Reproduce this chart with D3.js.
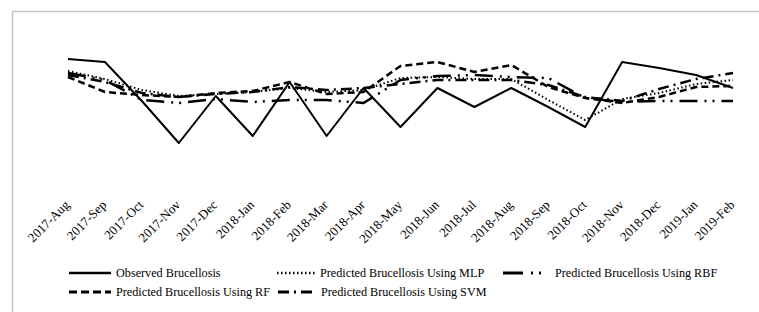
<!DOCTYPE html>
<html>
<head>
<meta charset="utf-8">
<script src="https://cdn.jsdelivr.net/npm/d3@7"></script>
<style>
  body { margin: 0; background: #fff; }
  svg { display: block; }
  svg text { font-family: "Liberation Serif", "Times New Roman", Times, serif; }
</style>
</head>
<body>
<div id="chart"></div>
<script>
var months = ['2017-Aug', '2017-Sep', '2017-Oct', '2017-Nov', '2017-Dec', '2018-Jan', '2018-Feb',
  '2018-Mar', '2018-Apr', '2018-May', '2018-Jun', '2018-Jul', '2018-Aug', '2018-Sep', '2018-Oct',
  '2018-Nov', '2018-Dec', '2019-Jan', '2019-Feb'];

var observed = [121, 118, 79, 37, 84, 44, 98, 44, 92, 53, 92, 73, 92, 73, 53, 118, 112, 105, 92];
var mlp      = [109, 101, 90, 84, 86, 88, 92, 88, 90, 102, 103, 101, 101, 80, 60, 81, 87, 96, 100];
var rbf      = [107, 100, 80, 77, 81, 78, 80, 80, 77, 100, 104, 105, 103, 102, 82, 78, 79, 79, 79];
var rf       = [103, 88, 85, 83, 87, 89, 98, 86, 88, 114, 118, 108, 115, 93, 82, 77, 83, 93, 94];
var svm      = [105, 98, 87, 83, 86, 88, 93, 90, 92, 96, 100, 100, 100, 95, 83, 79, 91, 101, 107];

var seriesNames = ['Observed Brucellosis', 'Predicted Brucellosis Using MLP', 'Predicted Brucellosis Using RBF',
  'Predicted Brucellosis Using RF', 'Predicted Brucellosis Using SVM'];

var width = 759,
    height = 312;

var series = [
  { name: seriesNames[0], values: observed, dash: null, w: 2 },
  { name: seriesNames[1], values: mlp, dash: '1.5,2.5', w: 2 },
  { name: seriesNames[2], values: rbf, dash: '18,7,2,6,2,7', w: 2.5 },
  { name: seriesNames[3], values: rf, dash: '7,4', w: 2.5 },
  { name: seriesNames[4], values: svm, dash: '11,5,2,5', w: 2.5 }
];

var svg = d3.select('#chart')
  .append('svg')
  .attr('width', width)
  .attr('height', height);

// frame
svg.append('path')
  .attr('d', 'M12.5,' + height + 'V11.5H' + width)
  .attr('fill', 'none')
  .attr('stroke', '#c3c3c3')
  .attr('stroke-width', 1.5);

var xScale = d3.scalePoint()
  .domain(months)
  .range([68, 733]);

var yScale = d3.scaleLinear()
  .domain([0, 150])
  .range([180, 30]);

var line = d3.line()
  .x(function(d, i) { return xScale(months[i]); })
  .y(function(d) { return yScale(d); });

// draw observed last so it sits on top
[1, 2, 3, 4, 0].forEach(function(k) {
  var s = series[k];
  svg.append('path')
    .datum(s.values)
    .attr('d', line)
    .attr('fill', 'none')
    .attr('stroke', '#000')
    .attr('stroke-width', s.w)
    .attr('stroke-dasharray', s.dash)
    .attr('stroke-linejoin', 'round');
});

var xAxis = d3.axisBottom(xScale).tickSize(0);

var xAxisGroup = svg.append('g')
  .attr('transform', 'translate(0, 201)')
  .call(xAxis)
  .attr('font-family', null)
  .attr('font-size', null);

xAxisGroup.select('.domain').remove();
xAxisGroup.selectAll('text')
  .attr('y', 0)
  .attr('dy', '0.35em')
  .attr('x', -2)
  .attr('transform', 'rotate(-45)')
  .style('text-anchor', 'end')
  .style('font-size', '13px')
  .attr('fill', '#000');

// legend
var legendItems = [
  { k: 0, x: 69, y: 273 },
  { k: 1, x: 277, y: 273 },
  { k: 2, x: 503, y: 273 },
  { k: 3, x: 69, y: 292 },
  { k: 4, x: 278, y: 292 }
];

var legend = svg.append('g');

legendItems.forEach(function(item) {
  var s = series[item.k];
  var lineLen = item.k === 2 ? 47 : (item.k === 0 || item.k === 3 ? 42 : 38);
  var dash = s.dash;
  if (item.k === 2) dash = '20,8,2,6,2,9';
  if (item.k === 3) dash = '8,4';
  legend.append('line')
    .attr('x1', item.x)
    .attr('x2', item.x + lineLen)
    .attr('y1', item.y)
    .attr('y2', item.y)
    .attr('stroke', '#000')
    .attr('stroke-width', s.w + 0.5)
    .attr('stroke-dasharray', dash);
  legend.append('text')
    .attr('x', item.x + lineLen + 5)
    .attr('y', item.y)
    .attr('dy', '0.35em')
    .style('font-size', '12.2px')
    .text(s.name);
});
</script>
</body>
</html>
